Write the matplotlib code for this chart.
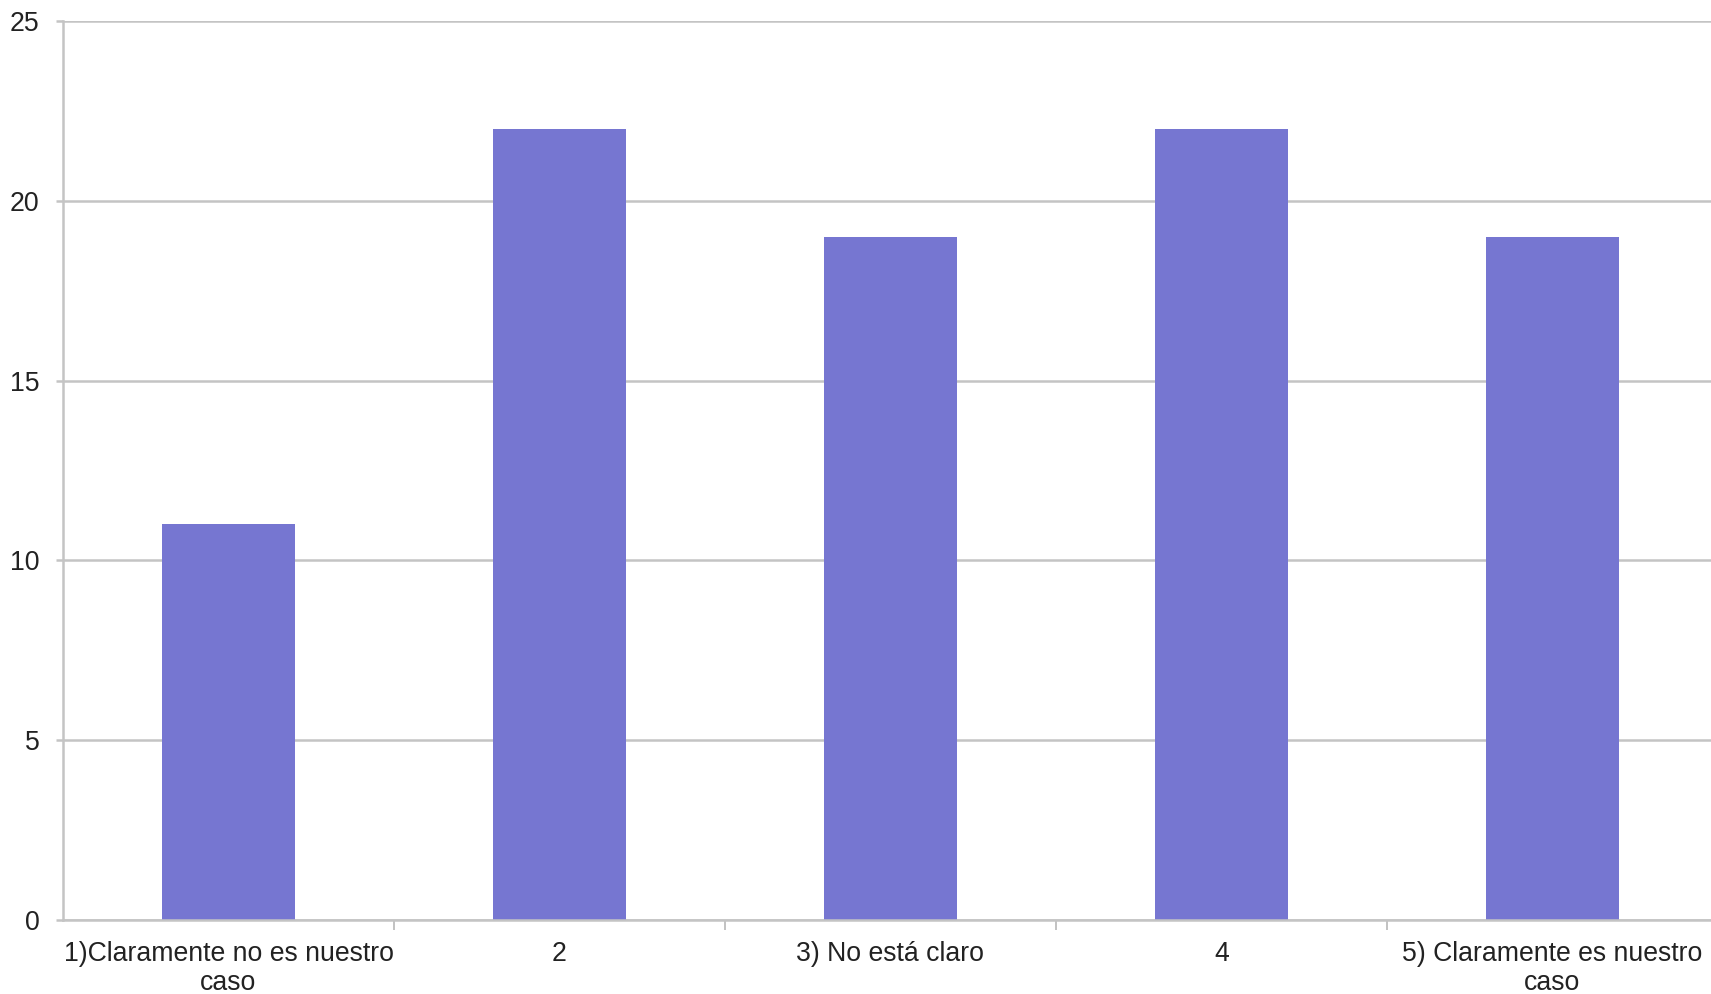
import matplotlib.pyplot as plt
from matplotlib.ticker import FixedLocator

plt.rcParams['font.family'] = ['Liberation Sans', 'DejaVu Sans']

categories = ['1)Claramente no es nuestro\ncaso', '2', '3) No está claro', '4',
              '5) Claramente es nuestro\ncaso']
counts = [11, 22, 19, 22, 19]
y_ticks = [0, 5, 10, 15, 20, 25]

bar_color = '#7676D1'
grid_color = '#C4C4C4'

fig = plt.figure(figsize=(17.11, 9.94), dpi=100)
ax = fig.add_axes([63 / 1711, 74 / 994, 1655 / 1711, 899 / 994])

x = list(range(len(categories)))
ax.bar(x, counts, width=0.4, color=bar_color, zorder=3)

ax.set_xlim(-0.5, len(categories) - 0.5)
ax.set_ylim(0, 25)
ax.set_yticks(y_ticks)
ax.yaxis.grid(True, color=grid_color, linewidth=1.8, zorder=0)

# boundary ticks between categories, labels centred on the bars
ax.xaxis.set_major_locator(FixedLocator([i + 0.5 for i in x[:-1]]))
ax.xaxis.set_minor_locator(FixedLocator(x))
ax.set_xticklabels([])
ax.set_xticklabels(categories, minor=True, fontsize=19.2, color='#222222',
                   linespacing=1.18)
ax.tick_params(axis='x', which='major', length=7, width=1.2, color='#B8B8B8')
ax.tick_params(axis='x', which='minor', length=0, pad=15)
ax.tick_params(axis='y', length=5, width=1.8, color=grid_color, labelsize=19.2,
               labelcolor='#222222', pad=12)

for side in ['top', 'right']:
    ax.spines[side].set_visible(False)
for side in ['left', 'bottom']:
    ax.spines[side].set_color(grid_color)
    ax.spines[side].set_linewidth(1.8)
    ax.spines[side].set_zorder(4)

fig.savefig('out.png', dpi=100)
